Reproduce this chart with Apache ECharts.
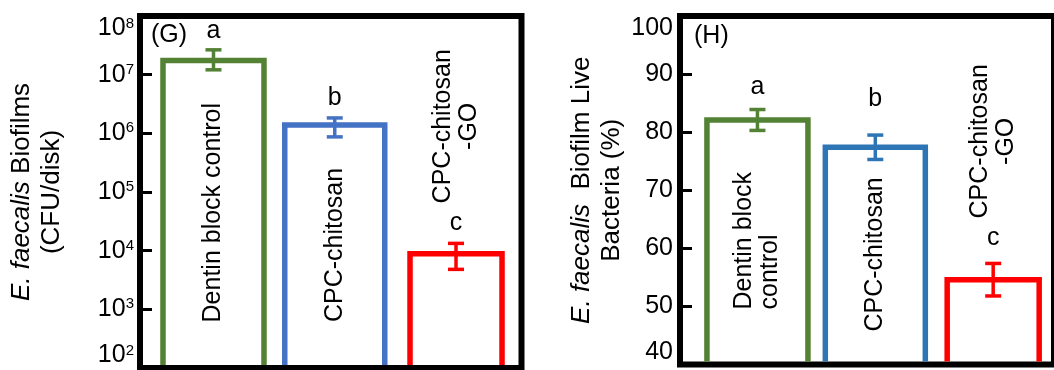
<!DOCTYPE html>
<html><head><meta charset="utf-8">
<script src="https://cdn.jsdelivr.net/npm/echarts@6/dist/echarts.min.js"></script>
<style>html,body{margin:0;padding:0;background:#fff}#c{width:1054px;height:370px}</style>
</head><body><div id="c"></div>
<script>
// ---------------- data ----------------
const categoriesG = ['Dentin block control', 'CPC-chitosan', 'CPC-chitosan\n-GO'];
const categoriesH = ['Dentin block\ncontrol', 'CPC-chitosan', 'CPC-chitosan\n-GO'];
const lettersG = ['a', 'b', 'c'];
const lettersH = ['a', 'b', 'c'];
// (G) CFU per disk (log scale): mean, lower and upper error-bar ends
const cfuMean = [1.75e7, 1.39e6, 8.9e3];
const cfuLow  = [1.21e7, 8.7e5, 4.8e3];
const cfuHigh = [2.65e7, 1.83e6, 1.33e4];
// (H) live bacteria percentage: mean and SD
const liveMean = [82.1, 77.4, 54.6];
const liveErr  = [1.8, 2.1, 2.8];
// tick labels
const cfuTickExponents = [2, 3, 4, 5, 6, 7, 8];
const liveTicks = [40, 50, 60, 70, 80, 90, 100];

// ---------------- style ----------------
const FONT = '"Liberation Sans", Arial, Helvetica, sans-serif';
const GREEN = '#548235', RED = '#FF0000';
const colorsG = [GREEN, '#4472C4', RED];
const colorsH = [GREEN, '#2E75B6', RED];
const barWidths = [101, 100, 92];
const labelPlacement = ['inside', 'inside', 'above'];
const letterGapG = [19, 20, 20];
const letterGapH = [22, 36, 25];
const BAR_LW = 5.5, ERR_LW = 3.5, CAP_W = 16, FRAME_W = 6;
const LABEL_SIZE = 25, LINE_H = 26;

const mctx = document.createElement('canvas').getContext('2d');
function maxLineWidth(s, size) {
  mctx.font = size + 'px ' + FONT;
  return Math.max.apply(null, s.split('\n').map(l => mctx.measureText(l).width));
}

function makeRender(cfg) {
  return function (params, api) {
    const i = params.dataIndex;
    const x = api.value(0), mean = api.value(1), lo = api.value(2), hi = api.value(3);
    const top = api.coord([x, mean]);
    const base = api.coord([x, cfg.yMin]);
    const yb = base[1] - FRAME_W / 2;
    const cx = top[0];
    const w = barWidths[i];
    const color = cfg.colors[i];
    const pHi = api.coord([x, hi]), pLo = api.coord([x, lo]);
    const children = [
      { type: 'polyline', shape: { points: [[cx - w / 2, yb], [cx - w / 2, top[1]], [cx + w / 2, top[1]], [cx + w / 2, yb]] },
        style: { stroke: color, lineWidth: BAR_LW, fill: 'none', lineJoin: 'miter' } },
      { type: 'line', shape: { x1: cx, y1: pHi[1], x2: cx, y2: pLo[1] }, style: { stroke: color, lineWidth: ERR_LW } },
      { type: 'line', shape: { x1: cx - CAP_W / 2, y1: pHi[1], x2: cx + CAP_W / 2, y2: pHi[1] }, style: { stroke: color, lineWidth: ERR_LW } },
      { type: 'line', shape: { x1: cx - CAP_W / 2, y1: pLo[1], x2: cx + CAP_W / 2, y2: pLo[1] }, style: { stroke: color, lineWidth: ERR_LW } }
    ];
    const letterY = pHi[1] - cfg.letterGap[i];
    children.push({ type: 'text', x: cx, y: letterY,
      style: { text: cfg.letters[i], font: LABEL_SIZE + 'px ' + FONT, fill: '#000', align: 'center', verticalAlign: 'middle' } });
    const name = cfg.categories[i];
    const mw = maxLineWidth(name, LABEL_SIZE);
    if (labelPlacement[i] === 'inside') {
      children.push({ type: 'text', x: cx, y: (top[1] + yb) / 2 + mw / 2, rotation: Math.PI / 2,
        style: { text: name, font: LABEL_SIZE + 'px ' + FONT, fill: '#000', align: 'left', verticalAlign: 'middle', lineHeight: LINE_H } });
    } else {
      children.push({ type: 'text', x: cx, y: letterY - 20 - mw / 2, rotation: Math.PI / 2,
        style: { text: name, font: LABEL_SIZE + 'px ' + FONT, fill: '#000', align: 'center', verticalAlign: 'middle', lineHeight: LINE_H } });
    }
    return { type: 'group', children };
  };
}

const dataG = cfuMean.map((v, i) => [i + 1, v, cfuLow[i], cfuHigh[i]]);
const dataH = liveMean.map((v, i) => [i + 1, v, v - liveErr[i], v + liveErr[i]]);

const tickCommon = { show: true, inside: true, length: 12, lineStyle: { color: '#000', width: 3 } };
const nameStyle = { fontSize: 26, color: '#000', fontFamily: FONT, lineHeight: 30,
  rich: { i: { fontStyle: 'italic', fontSize: 26, color: '#000', fontFamily: FONT, lineHeight: 30 } } };

const option = {
  backgroundColor: '#fff',
  animation: false,
  title: [
    { text: '(G)', left: 151, top: 23, padding: 0, textStyle: { fontSize: 25, fontWeight: 'normal', color: '#000', fontFamily: FONT } },
    { text: '(H)', left: 694, top: 24, padding: 0, textStyle: { fontSize: 25, fontWeight: 'normal', color: '#000', fontFamily: FONT } }
  ],
  grid: [
    { left: 140, top: 16, width: 381.5, height: 352, show: true, borderWidth: FRAME_W, borderColor: '#000' },
    { left: 680, top: 16, width: 381.5, height: 348.5, show: true, borderWidth: FRAME_W, borderColor: '#000' }
  ],
  xAxis: [
    { gridIndex: 0, type: 'value', min: 0.394, max: 3.54, show: false },
    { gridIndex: 1, type: 'value', min: 0.343, max: 3.516, show: false }
  ],
  yAxis: [
    { gridIndex: 0, type: 'log', logBase: 10, min: 100, max: 1e8,
      axisLine: { show: false }, axisTick: tickCommon, splitLine: { show: false },
      axisLabel: { margin: 6, color: '#000', verticalAlignMinLabel: 'bottom', verticalAlignMaxLabel: 'top',
        formatter: v => { const e = Math.round(Math.log10(v)); return cfuTickExponents.includes(e) ? '{b|10}{s|' + e + '}' : ''; },
        rich: { b: { fontSize: 25, color: '#000', fontFamily: FONT }, s: { fontSize: 15, color: '#000', fontFamily: FONT, verticalAlign: 'top' } } },
      name: '{i|E. faecalis} Biofilms\n(CFU/disk)', nameLocation: 'middle', nameRotate: 90, nameGap: 73,
      nameTextStyle: nameStyle },
    { gridIndex: 1, type: 'value', min: 40, max: 100, interval: 10,
      axisLine: { show: false }, axisTick: tickCommon, splitLine: { show: false },
      axisLabel: { margin: 7, color: '#000', fontSize: 25, fontFamily: FONT, verticalAlignMinLabel: 'bottom', verticalAlignMaxLabel: 'top',
        formatter: v => liveTicks.includes(v) ? String(v) : '' },
      name: '{i|E. faecalis}  Biofilm Live\nBacteria (%)', nameLocation: 'middle', nameRotate: 90, nameGap: 53,
      nameTextStyle: nameStyle }
  ],
  series: [
    { type: 'custom', xAxisIndex: 0, yAxisIndex: 0, data: dataG, encode: { x: 0, y: 1 }, z: 5,
      renderItem: makeRender({ yMin: 100, colors: colorsG, letters: lettersG, letterGap: letterGapG, categories: categoriesG }) },
    { type: 'custom', xAxisIndex: 1, yAxisIndex: 1, data: dataH, encode: { x: 0, y: 1 }, z: 5,
      renderItem: makeRender({ yMin: 40, colors: colorsH, letters: lettersH, letterGap: letterGapH, categories: categoriesH }) }
  ]
};
const chart = echarts.init(document.getElementById('c'), null, { renderer: 'canvas' });
chart.setOption(option);
</script>
</body></html>
